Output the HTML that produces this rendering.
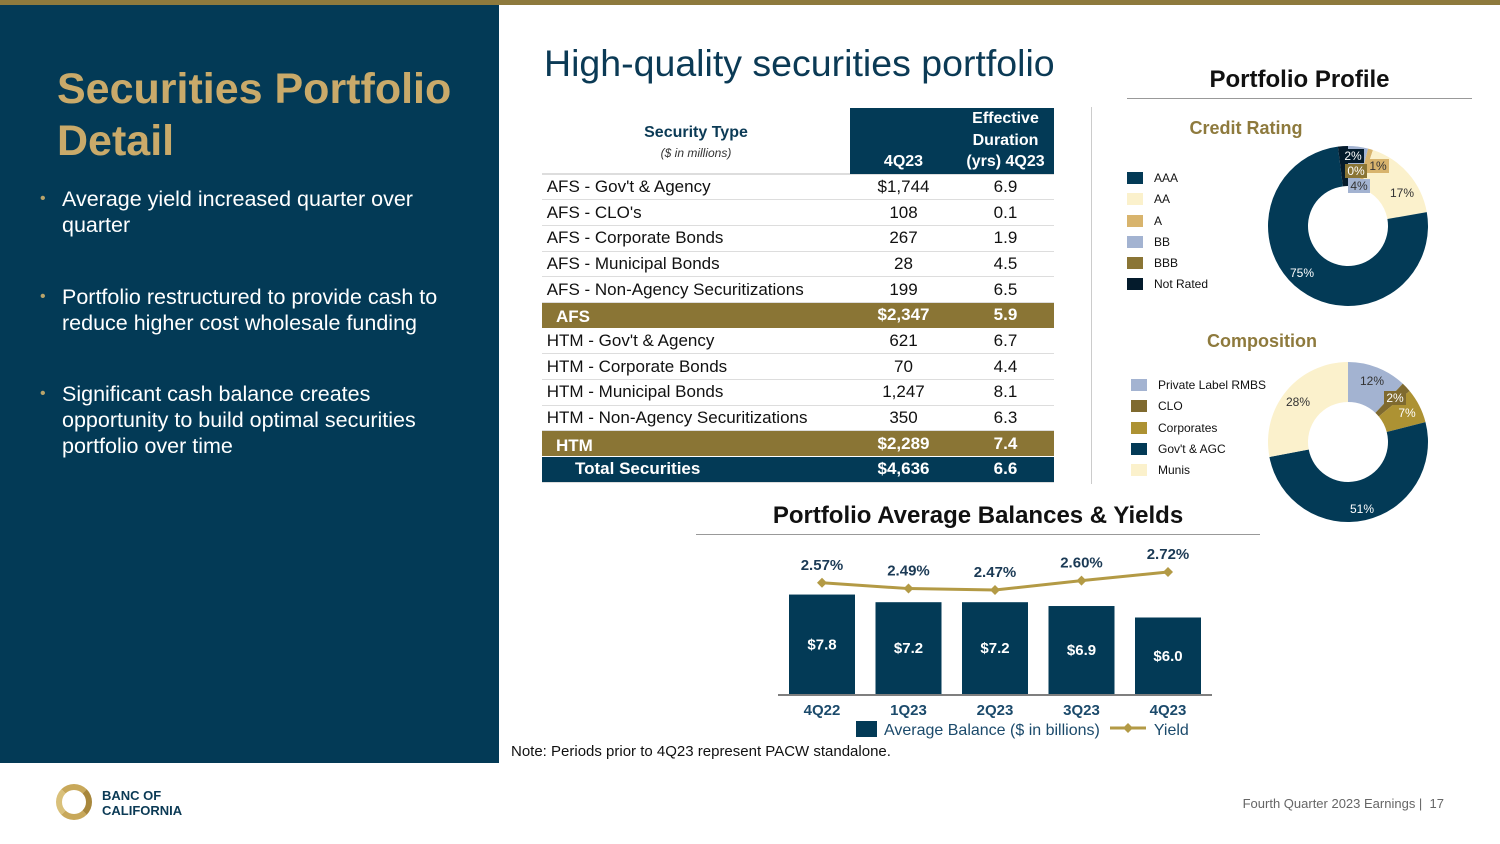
<!DOCTYPE html>
<html><head><meta charset="utf-8"><style>
*{margin:0;padding:0;box-sizing:border-box}
body{width:1500px;height:844px;position:relative;background:#fff;font-family:"Liberation Sans",Arial,sans-serif;overflow:hidden}
.abs{position:absolute}
#topbar{left:0;top:0;width:1500px;height:5px;background:#8e7a3d}
#left{left:0;top:5px;width:499px;height:758px;background:#033a56}
#left h1{position:absolute;left:57px;top:58px;color:#c9aa6a;font-size:43px;line-height:52px;font-weight:bold}
.bul{position:absolute;left:62px;color:#fff;font-size:21.5px;line-height:26px;width:410px}
.bul:before{content:"•";position:absolute;left:-22px;color:#b9a46b;font-size:16px}
#title{left:544px;top:42px;font-size:37.5px;color:#0b3a55}
table{position:absolute;left:542px;top:108px;width:512px;border-collapse:collapse;font-size:17px;color:#111}
td{height:25.7px;border-bottom:1.5px solid #ddd;padding:0}
td.c{text-align:center}
tr.g td{background:#8a7535;color:#fff;font-weight:bold;border-bottom:1px solid #fff}
tr.n td{background:#033a56;color:#fff;font-weight:bold}
.hd{background:#033a56;color:#fff;font-weight:bold;font-size:16px;text-align:center;vertical-align:bottom;line-height:21.5px;padding-bottom:1px}
.lg{font-size:12px;color:#111}
.sw{display:inline-block;width:16px;height:12px;vertical-align:-2px;margin-right:11px}
</style></head><body>
<div id="topbar" class="abs"></div>
<div id="left" class="abs">
<h1>Securities Portfolio<br>Detail</h1>
<div class="bul" style="top:181px">Average yield increased quarter over quarter</div>
<div class="bul" style="top:279px">Portfolio restructured to provide cash to reduce higher cost wholesale funding</div>
<div class="bul" style="top:376px">Significant cash balance creates opportunity to build optimal securities portfolio over time</div>
</div>
<div id="title" class="abs">High-quality securities portfolio</div>

<table>
<tr style="height:65px"><td style="text-align:center;border-bottom:2px solid #ddd;width:308px;vertical-align:top;padding-top:14px"><b style="color:#0b3a55;font-size:16px">Security Type</b><br><i style="font-size:12px;color:#333">($ in millions)</i></td><td class="hd" style="width:107px">4Q23</td><td class="hd">Effective<br>Duration<br>(yrs) 4Q23</td></tr>
<tr><td>&nbsp;AFS - Gov't &amp; Agency</td><td class="c">$1,744</td><td class="c">6.9</td></tr>
<tr><td>&nbsp;AFS - CLO's</td><td class="c">108</td><td class="c">0.1</td></tr>
<tr><td>&nbsp;AFS - Corporate Bonds</td><td class="c">267</td><td class="c">1.9</td></tr>
<tr><td>&nbsp;AFS - Municipal Bonds</td><td class="c">28</td><td class="c">4.5</td></tr>
<tr><td>&nbsp;AFS - Non-Agency Securitizations</td><td class="c">199</td><td class="c">6.5</td></tr>
<tr class="g"><td style="padding-left:14px;padding-top:4px">AFS</td><td class="c">$2,347</td><td class="c">5.9</td></tr>
<tr><td>&nbsp;HTM - Gov't &amp; Agency</td><td class="c">621</td><td class="c">6.7</td></tr>
<tr><td>&nbsp;HTM - Corporate Bonds</td><td class="c">70</td><td class="c">4.4</td></tr>
<tr><td>&nbsp;HTM - Municipal Bonds</td><td class="c">1,247</td><td class="c">8.1</td></tr>
<tr><td>&nbsp;HTM - Non-Agency Securitizations</td><td class="c">350</td><td class="c">6.3</td></tr>
<tr class="g"><td style="padding-left:14px;padding-top:4px">HTM</td><td class="c">$2,289</td><td class="c">7.4</td></tr>
<tr class="n"><td style="padding-left:33px">Total Securities</td><td class="c">$4,636</td><td class="c">6.6</td></tr>
</table>

<div class="abs" style="left:1091px;top:107px;width:1px;height:377px;background:#ccc"></div>
<div class="abs" style="left:1127px;top:66px;width:345px;text-align:center;font-size:24px;font-weight:bold;color:#111;padding-bottom:4px;border-bottom:1.5px solid #999">Portfolio Profile</div>
<div class="abs" style="left:1127px;top:118px;width:238px;text-align:center;font-size:18px;font-weight:bold;color:#8e7a3d">Credit Rating</div>
<div class="abs" style="left:1127px;top:331px;width:270px;text-align:center;font-size:18px;font-weight:bold;color:#8e7a3d">Composition</div>

<div class="abs lg" style="left:1127px;top:168px;line-height:21.3px">
<div><span class="sw" style="background:#033a56"></span>AAA</div>
<div><span class="sw" style="background:#fbf1cc"></span>AA</div>
<div><span class="sw" style="background:#d8b46d"></span>A</div>
<div><span class="sw" style="background:#a3b3d1"></span>BB</div>
<div><span class="sw" style="background:#8a7535"></span>BBB</div>
<div><span class="sw" style="background:#041b2c"></span>Not Rated</div>
</div>
<div class="abs lg" style="left:1131px;top:375px;line-height:21.3px">
<div><span class="sw" style="background:#a3b3d1"></span>Private Label RMBS</div>
<div><span class="sw" style="background:#7f6a2f"></span>CLO</div>
<div><span class="sw" style="background:#ad9233"></span>Corporates</div>
<div><span class="sw" style="background:#033a56"></span>Gov't &amp; AGC</div>
<div><span class="sw" style="background:#fbf1cc"></span>Munis</div>
</div>

<svg id="donuts" class="abs" style="left:0;top:0" width="1500" height="844"></svg>

<div class="abs" style="left:696px;top:502px;width:564px;text-align:center;font-size:24px;font-weight:bold;color:#111;padding-bottom:4px;border-bottom:1.5px solid #999">Portfolio Average Balances &amp; Yields</div>
<svg id="bars" class="abs" style="left:0;top:0" width="1500" height="844"></svg>
<div class="abs" style="left:856px;top:721px;font-size:16px;color:#1b4a6b;white-space:nowrap"><span style="display:inline-block;width:21px;height:16px;background:#033a56;vertical-align:-2px;margin-right:7px"></span>Average Balance ($ in billions)<svg width="40" height="14" style="margin:0 6px 0 8px;vertical-align:0"><line x1="2" y1="7" x2="38" y2="7" stroke="#b39a45" stroke-width="3"/><path d="M20 2 L25 7 L20 12 L15 7Z" fill="#b39a45"/></svg>Yield</div>
<div class="abs" style="left:511px;top:743px;font-size:15px;color:#111">Note: Periods prior to 4Q23 represent PACW standalone.</div>

<div class="abs" style="left:56px;top:784px;width:36px;height:36px;border-radius:50%;border:6px solid #c8a85a;border-left-color:#d9c07a;border-right-color:#a8873c"></div>
<div class="abs" style="left:102px;top:788px;font-size:13px;font-weight:bold;color:#0b3a55;line-height:15px">BANC OF<br>CALIFORNIA</div>
<div class="abs" style="right:56px;top:796px;font-size:13px;color:#666">Fourth Quarter 2023 Earnings |&nbsp; 17</div>

<script>
const creditLabels=["BB","A","AA","AAA","Not Rated","BBB"];
const creditValues=[4,1,17,75,2,0];
const creditColors=["#a3b3d1","#d8b46d","#fbf1cc","#033a56","#041b2c","#8a7535"];
const compLabels=["Private Label RMBS","CLO","Corporates","Gov't & AGC","Munis"];
const compValues=[12,2,7,51,28];
const compColors=["#a3b3d1","#7f6a2f","#ad9233","#033a56","#fbf1cc"];
const quarters=["4Q22","1Q23","2Q23","3Q23","4Q23"];
const balances=[7.8,7.2,7.2,6.9,6.0];
const yields=[2.57,2.49,2.47,2.60,2.72];

const NS="http://www.w3.org/2000/svg";
function mk(parent,tag,attrs){const e=document.createElementNS(NS,tag);for(const k in attrs)e.setAttribute(k,attrs[k]);parent.appendChild(e);return e;}
const dsvg=document.getElementById('donuts');
const darkSet=["#033a56","#041b2c","#8a7535","#7f6a2f","#ad9233"];
function donut(cx,cy,vals,cols,name,labelPos,boxed){
  const tot=vals.reduce((a,b)=>a+b,0);let a0=0;const R=80,r=40;
  vals.forEach((v,i)=>{
    const a1=a0+v/tot*2*Math.PI;
    if(v>0){
      const p=(a,rr)=>[cx+rr*Math.sin(a),cy-rr*Math.cos(a)];
      const [x1,y1]=p(a0,R),[x2,y2]=p(a1,R),[x3,y3]=p(a1,r),[x4,y4]=p(a0,r);
      const lg=(a1-a0)>Math.PI?1:0;
      const s=mk(dsvg,'path',{d:`M${x1} ${y1}A${R} ${R} 0 ${lg} 1 ${x2} ${y2}L${x3} ${y3}A${r} ${r} 0 ${lg} 0 ${x4} ${y4}Z`,fill:cols[i]});
      
      
    }
    a0=a1;
  });
  vals.forEach((v,i)=>{
    const tx=labelPos[i][0],ty=labelPos[i][1];
    const dark=darkSet.includes(cols[i]);
    if(boxed[i]){
      const b=mk(dsvg,'rect',{x:tx-11,y:ty-11,width:22,height:14,fill:cols[i]});
      
      
    }
    const t=mk(dsvg,'text',{x:tx,y:ty,'text-anchor':'middle','font-size':'12','fill':dark?'#fff':'#333','font-family':'Liberation Sans, sans-serif'});
    t.textContent=v+'%';
    
    
  });
}
donut(1348,226,creditValues,creditColors,'credit',[[1359,190],[1378,170],[1402,197],[1302,277],[1353,160],[1356,175]],[1,1,0,0,1,1]);
donut(1348,442,compValues,compColors,'composition',[[1372,385],[1395,402],[1407,417],[1362,513],[1298,406]],[0,1,0,0,0]);

const bsvg=document.getElementById('bars');
const x0=822,dx=86.5,base=694,ppu=12.75;
const xs=i=>x0+i*dx, yb=v=>base-v*ppu, yy=v=>590-(v-2.47)*72;
mk(bsvg,'line',{x1:778,y1:base+1,x2:1212,y2:base+1,stroke:'#555','stroke-width':1.5});
balances.forEach((v,i)=>{
  const r=mk(bsvg,'rect',{x:xs(i)-33,y:yb(v),width:66,height:base-yb(v),fill:'#033a56'});
  
  
  const t=mk(bsvg,'text',{x:xs(i),y:(yb(v)+base)/2+5,'text-anchor':'middle','font-size':'15','font-weight':'bold',fill:'#fff','font-family':'Liberation Sans, sans-serif'});
  t.textContent='$'+v.toFixed(1);
  
  
  const q=mk(bsvg,'text',{x:xs(i),y:715,'text-anchor':'middle','font-size':'15','font-weight':'bold',fill:'#1b4a6b','font-family':'Liberation Sans, sans-serif'});
  q.textContent=quarters[i];
  
  
});
const pl=mk(bsvg,'polyline',{points:yields.map((v,i)=>xs(i)+','+yy(v)).join(' '),fill:'none',stroke:'#b39a45','stroke-width':3});


yields.forEach((v,i)=>{
  const x=xs(i),y=yy(v);
  const d=mk(bsvg,'path',{d:`M${x} ${y-5}L${x+5} ${y}L${x} ${y+5}L${x-5} ${y}Z`,fill:'#b39a45'});
  
  
  const t=mk(bsvg,'text',{x:x,y:y-13,'text-anchor':'middle','font-size':'15','font-weight':'bold',fill:'#1b3a55','font-family':'Liberation Sans, sans-serif'});
  t.textContent=v.toFixed(2)+'%';
  
  
});
</script>
</body></html>
